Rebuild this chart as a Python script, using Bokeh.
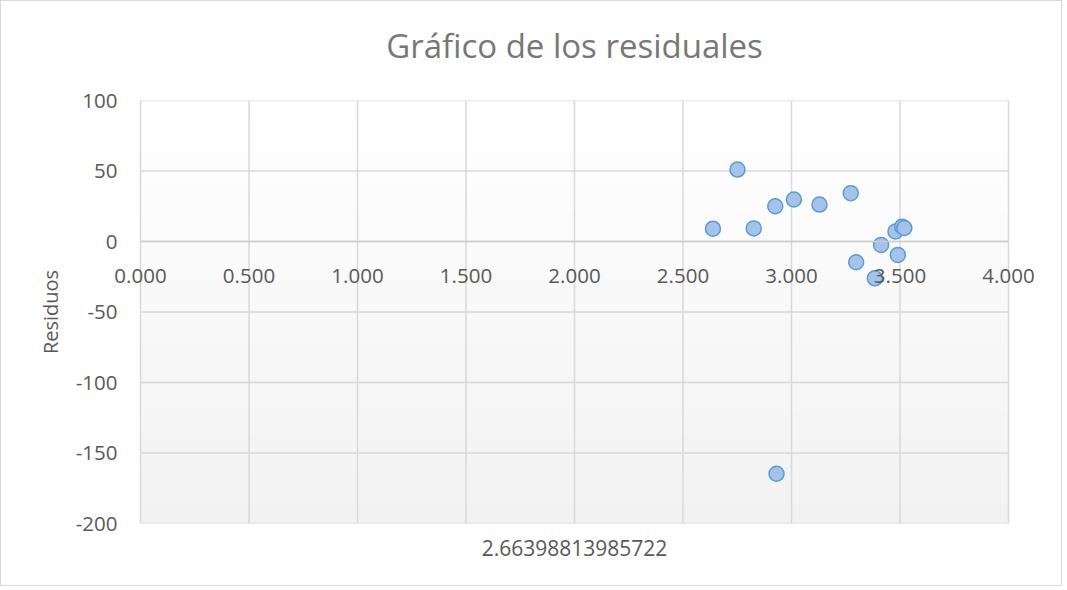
import numpy as np
from bokeh.plotting import figure
from bokeh.models import FixedTicker, LinearAxis
from bokeh.embed import file_html
from bokeh.resources import INLINE

# ---- data ----
x_vals = [2.638, 2.751, 2.826, 2.925, 3.011, 3.129, 3.273, 3.298, 3.384,
          3.413, 3.479, 3.490, 3.510, 3.520, 2.931]
residuos = [9.1, 51.0, 9.3, 25.0, 29.8, 26.2, 34.3, -14.7, -26.1,
            -2.4, 7.1, -9.5, 10.5, 9.6, -164.7]

x_ticks = [0.0, 0.5, 1.0, 1.5, 2.0, 2.5, 3.0, 3.5, 4.0]
x_tick_labels = ["0.000", "0.500", "1.000", "1.500", "2.000",
                 "2.500", "3.000", "3.500", "4.000"]
y_ticks = [-200, -150, -100, -50, 0, 50, 100]
y_tick_labels = ["-200", "-150", "-100", "-50", "0", "50", "100"]

title_text = "Gráfico de los residuales"
x_title = "2.66398813985722"
y_title = "Residuos"

FONT = "Open Sans"
TXT = "#595959"
GRID = "#d9d9d9"

x_lo, x_hi = x_ticks[0], x_ticks[-1]
y_lo, y_hi = y_ticks[0], y_ticks[-1]
PX_PER_X = 217.0
pad = 27 / PX_PER_X   # a little room so the edge tick labels are not cut

W, H = 1062, 586
p = figure(width=W, height=H, output_backend="svg", toolbar_location=None,
           x_range=(x_lo - pad, x_hi + pad), y_range=(y_lo, y_hi),
           x_axis_type=None,
           min_border_left=112, min_border_top=99, min_border_right=28,
           min_border_bottom=64)
p.title = None

p.background_fill_color = "white"
p.border_fill_color = "white"
p.outline_line_color = None
p.styles = {"border": "1px solid #d9d9d9"}
p.ygrid.visible = False

# chart title: label of an invisible top axis, centred on the whole chart
frame_left_px = 140
title_mid = x_lo + (W / 2 + 2.5 - frame_left_px) / PX_PER_X
top = LinearAxis(ticker=FixedTicker(ticks=[]),
                 bounds=(x_lo - pad, 2 * title_mid - (x_lo - pad)))
top.axis_label = title_text
top.axis_label_text_font = FONT
top.axis_label_text_font_size = "33px"
top.axis_label_text_font_style = "normal"
top.axis_label_text_color = "#777777"
top.axis_label_standoff = 33
top.axis_line_color = None
top.major_tick_line_color = None
top.minor_tick_line_color = None
top.major_tick_out = 0
top.major_tick_in = 0
top.major_label_standoff = 0
p.add_layout(top, "above")

# plot area gradient (white at top to light grey at bottom)
N = 64
img = np.zeros((N, 1), dtype=np.uint32)
view = img.view(dtype=np.uint8).reshape((N, 1, 4))
for i in range(N):
    t = i / (N - 1)          # 0 at bottom, 1 at top
    c = int(round(242 + (255 - 242) * t))
    view[i, 0, 0] = c
    view[i, 0, 1] = c
    view[i, 0, 2] = c
    view[i, 0, 3] = 255
p.image_rgba(image=[img], x=x_lo, y=y_lo, dw=x_hi - x_lo, dh=y_hi - y_lo,
             level="image")

# grid lines limited to the plot area
p.segment(x0=x_ticks, y0=[y_lo] * len(x_ticks), x1=x_ticks,
          y1=[y_hi] * len(x_ticks), line_color=GRID, line_width=1.5,
          level="underlay")
p.segment(x0=[x_lo] * len(y_ticks), y0=y_ticks, x1=[x_hi] * len(y_ticks),
          y1=y_ticks, line_color=GRID, line_width=1.5, level="underlay")

# bottom axis carrying only the axis title
xaxis = LinearAxis(ticker=FixedTicker(ticks=[]))
xaxis.axis_label = x_title
xaxis.axis_label_text_font = FONT
xaxis.axis_label_text_font_size = "21px"
xaxis.axis_label_text_font_style = "normal"
xaxis.axis_label_text_color = TXT
xaxis.axis_label_standoff = 16
xaxis.axis_line_color = None
xaxis.major_tick_line_color = None
xaxis.minor_tick_line_color = None
xaxis.major_tick_out = 0
xaxis.major_tick_in = 0
xaxis.major_label_standoff = 0
p.add_layout(xaxis, "below")

# horizontal axis crossing at y = 0, with its tick labels below the line
xcross = LinearAxis(ticker=FixedTicker(ticks=x_ticks), fixed_location=0,
                    bounds=(x_lo, x_hi))
xcross.major_label_overrides = {t: l for t, l in zip(x_ticks, x_tick_labels)}
xcross.axis_line_color = "#cccccc"
xcross.axis_line_width = 1.5
xcross.major_tick_line_color = None
xcross.minor_tick_line_color = None
xcross.major_tick_out = 0
xcross.major_tick_in = 0
xcross.major_label_standoff = 27
xcross.major_label_text_font = FONT
xcross.major_label_text_font_size = "20.5px"
xcross.major_label_text_color = TXT
p.add_layout(xcross, "below")

# y axis
ya = p.yaxis[0]
ya.ticker = FixedTicker(ticks=y_ticks)
ya.axis_line_color = None
ya.major_tick_line_color = None
ya.minor_tick_line_color = None
ya.major_tick_out = 0
ya.major_tick_in = 0
ya.major_label_standoff = -4
ya.major_label_overrides = {t: l for t, l in zip(y_ticks, y_tick_labels)}
ya.major_label_text_font = FONT
ya.major_label_text_font_size = "20.5px"
ya.major_label_text_color = TXT
ya.axis_label = y_title
ya.axis_label_text_font = FONT
ya.axis_label_text_font_size = "20px"
ya.axis_label_text_font_style = "normal"
ya.axis_label_text_color = TXT
ya.axis_label_standoff = 9

# points
p.scatter(x_vals, residuos, size=15, fill_color="#a5c2e8",
          line_color="#5b9bd5", line_width=1.5)

open("out.html", "w").write(file_html(p, INLINE))
